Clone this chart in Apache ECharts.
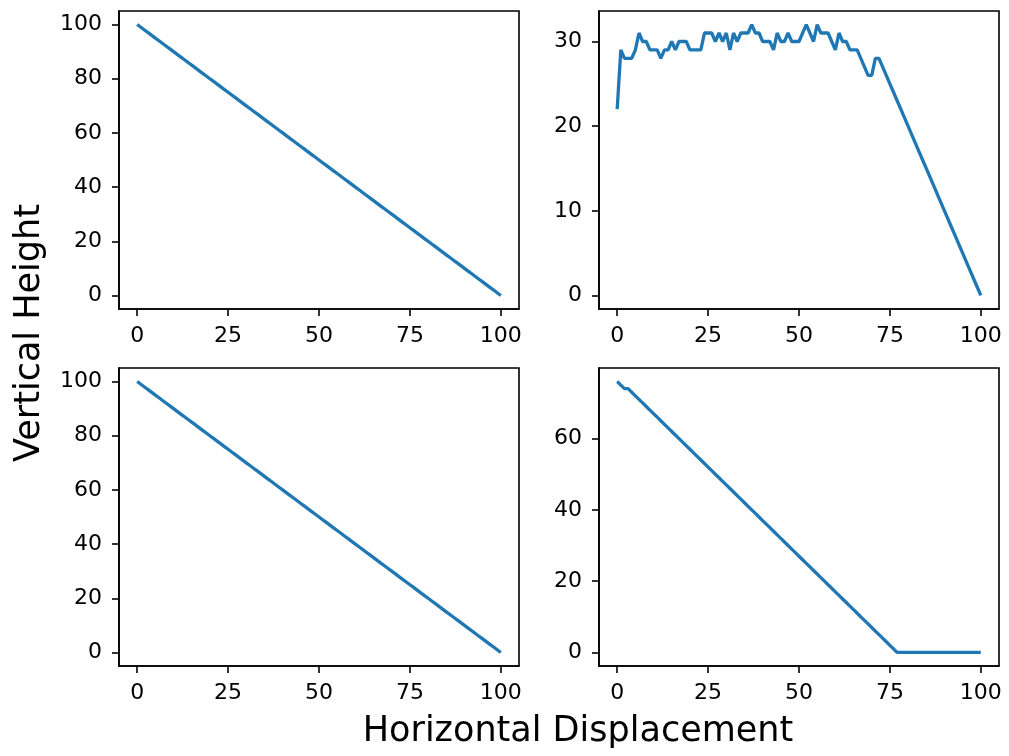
<!DOCTYPE html>
<html>
<head>
<meta charset="utf-8">
<script src="https://cdn.jsdelivr.net/npm/echarts@6/dist/echarts.min.js"></script>
<style>
html,body{margin:0;padding:0;background:#fff;}
#chart{width:1009px;height:756px;}
</style>
</head>
<body>
<div id="chart"></div>
<script>
const xValues = [0,1,2,3,4,5,6,7,8,9,10,11,12,13,14,15,16,17,18,19,20,21,22,23,24,25,26,27,28,29,30,31,32,33,34,35,36,37,38,39,40,41,42,43,44,45,46,47,48,49,50,51,52,53,54,55,56,57,58,59,60,61,62,63,64,65,66,67,68,69,70,71,72,73,74,75,76,77,78,79,80,81,82,83,84,85,86,87,88,89,90,91,92,93,94,95,96,97,98,99,100];

const topLeft = [100,99,98,97,96,95,94,93,92,91,90,89,88,87,86,85,84,83,82,81,80,79,78,77,76,75,74,73,72,71,70,69,68,67,66,65,64,63,62,61,60,59,58,57,56,55,54,53,52,51,50,49,48,47,46,45,44,43,42,41,40,39,38,37,36,35,34,33,32,31,30,29,28,27,26,25,24,23,22,21,20,19,18,17,16,15,14,13,12,11,10,9,8,7,6,5,4,3,2,1,0];

const topRight = [22,29,28,28,28,29,31,30,30,29,
  29,29,28,29,29,30,29,30,30,30,
  29,29,29,29,31,31,31,30,31,30,
  31,29,31,30,31,31,31,32,31,31,
  30,30,30,29,31,30,30,31,30,30,
  30,31,32,31,30,32,31,31,31,30,
  29,31,30,30,29,29,29,28,27,26,
  26,28,28,27,26,25,24,23,22,21,
  20,19,18,17,16,15,14,13,12,11,
  10,9,8,7,6,5,4,3,2,1,
  0];

const bottomLeft = [100,99,98,97,96,95,94,93,92,91,90,89,88,87,86,85,84,83,82,81,80,79,78,77,76,75,74,73,72,71,70,69,68,67,66,65,64,63,62,61,60,59,58,57,56,55,54,53,52,51,50,49,48,47,46,45,44,43,42,41,40,39,38,37,36,35,34,33,32,31,30,29,28,27,26,25,24,23,22,21,20,19,18,17,16,15,14,13,12,11,10,9,8,7,6,5,4,3,2,1,0];

const bottomRight = [76,75,74,74,73,72,71,70,69,68,
  67,66,65,64,63,62,61,60,59,58,
  57,56,55,54,53,52,51,50,49,48,
  47,46,45,44,43,42,41,40,39,38,
  37,36,35,34,33,32,31,30,29,28,
  27,26,25,24,23,22,21,20,19,18,
  17,16,15,14,13,12,11,10,9,8,
  7,6,5,4,3,2,1,0,0,0,
  0,0,0,0,0,0,0,0,0,0,
  0,0,0,0,0,0,0,0,0,0,
  0];

const xTicks = [0,25,50,75,100];
const yTicksA = [0,20,40,60,80,100];
const yTicksB = [0,10,20,30];
const yTicksD = [0,20,40,60];

const xLabel = 'Horizontal Displacement';
const yLabel = 'Vertical Height';

const FONT = 'DejaVu Sans';
const LINE = '#1f77b4';

const grids = [
  {left:119, top:11, width:400, height:298},
  {left:599, top:11, width:400, height:298},
  {left:119, top:368, width:400, height:298},
  {left:599, top:368, width:400, height:298}
].map(g => Object.assign({show:true, borderColor:'#000', borderWidth:1.6, backgroundColor:'#fff'}, g));

function xAxis(i){
  return {
    type:'value', gridIndex:i, min:-5, max:105,
    axisLine:{show:true, onZero:false, lineStyle:{color:'#000', width:1.6}},
    axisTick:{show:true, length:7, lineStyle:{color:'#000', width:1.6}, customValues:xTicks},
    axisLabel:{color:'#000', fontFamily:FONT, fontSize:22, margin:16, customValues:xTicks},
    splitLine:{show:false}
  };
}
function yAxis(i, min, max, ticks){
  return {
    type:'value', gridIndex:i, min:min, max:max,
    axisLine:{show:true, onZero:false, lineStyle:{color:'#000', width:1.6}},
    axisTick:{show:true, length:7, lineStyle:{color:'#000', width:1.6}, customValues:ticks},
    axisLabel:{color:'#000', fontFamily:FONT, fontSize:22, margin:17, customValues:ticks},
    splitLine:{show:false}
  };
}
function series(i, ys){
  return {
    type:'line', xAxisIndex:i, yAxisIndex:i,
    data: ys.map((y,k)=>[xValues[k], y]),
    showSymbol:false, symbol:'none',
    lineStyle:{color:LINE, width:3.3},
    animation:false
  };
}

const chart = echarts.init(document.getElementById('chart'), null, {renderer:'canvas'});
chart.setOption({
  animation:false,
  backgroundColor:'#fff',
  grid: grids,
  xAxis:[xAxis(0), xAxis(1), xAxis(2), xAxis(3)],
  yAxis:[
    yAxis(0, -5, 105, yTicksA),
    yAxis(1, -1.6, 33.6, yTicksB),
    yAxis(2, -5, 105, yTicksA),
    yAxis(3, -3.8, 79.8, yTicksD)
  ],
  series:[
    series(0, topLeft),
    series(1, topRight),
    series(2, bottomLeft),
    series(3, bottomRight)
  ],
  graphic:[
    {type:'text', x:578, y:732, style:{text:xLabel, font:'35px "DejaVu Sans"', fill:'#000', textAlign:'center', textVerticalAlign:'middle'}},
    {type:'text', x:30, y:333, rotation:Math.PI/2, style:{text:yLabel, font:'35px "DejaVu Sans"', fill:'#000', textAlign:'center', textVerticalAlign:'middle'}}
  ]
});
</script>
</body>
</html>
